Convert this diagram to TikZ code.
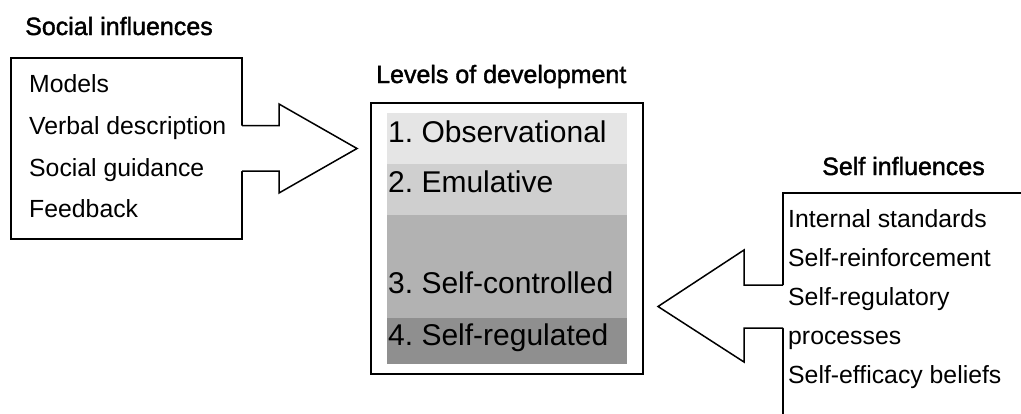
\documentclass[tikz,border=0pt]{standalone}
\usepackage{fontspec}
\setmainfont{Liberation Sans}
\usepackage{tikz}
\usetikzlibrary{calc,positioning}
\frenchspacing

\newcommand{\headfont}{\fontsize{25}{28}\selectfont\addfontfeature{FakeBold=1.6}}
\newcommand{\itemfont}{\fontsize{24.8}{28}\selectfont}
\newcommand{\levfont}{\fontsize{30}{34}\selectfont}

\tikzset{
  box/.style={draw, fill=white, rectangle, line width=1.5pt, inner sep=0pt, outer sep=0pt, anchor=north west},
  band/.style={rectangle, inner sep=0pt, outer sep=0pt, anchor=north west, minimum width=240pt},
  head/.style={anchor=base west, inner sep=0pt, font=\headfont},
  item/.style={anchor=base west, inner sep=0pt, font=\itemfont},
  lev/.style={anchor=base west, inner sep=0pt, font=\levfont},
  blockarrow/.style={draw, line width=1.5pt, line join=miter}
}

\begin{document}
\begin{tikzpicture}[x=1pt, y=-1pt]
        \useasboundingbox (0,0) rectangle (1021,413);
        \clip (0,0) rectangle (1021,413);

        % social influences
        \node[head] (soctitle) at (25,35) {Social influences};
        \node[box, minimum width=231pt, minimum height=181pt] (soc) at (11,58) {};
        \node[item] (models) at (29,92) {Models};
        \node[item] (verbal) at (29,134) {Verbal description};
        \node[item] (guide) at (29,176) {Social guidance};
        \node[item] (feed) at (29,217) {Feedback};

        % levels of development
        \node[head] (levtitle) at (376,83) {Levels of development};
        \node[box, minimum width=272pt, minimum height=271pt] (levels) at (371,103) {};
        \node[band, fill=black!10, minimum height=51pt] (b1) at (387,113) {};
        \node[band, fill=black!19, minimum height=51pt] (b2) at (b1.south west) {};
        \node[band, fill=black!30, minimum height=103pt] (b3) at (b2.south west) {};
        \node[band, fill=black!44, minimum height=46pt] (b4) at (b3.south west) {};
        \node[lev] (l1) at (388,142) {1. Observational};
        \node[lev] (l2) at (388,192) {2. Emulative};
        \node[lev] (l3) at (388,293) {3. Self-controlled};
        \node[lev] (l4) at (388,345) {4. Self-regulated};

        % self influences
        \node[head] (selftitle) at (822,175) {Self influences};
        \node[box, minimum width=300pt, minimum height=300pt] (self) at (783,193) {};
        \node[item] (intern) at (788,227) {Internal standards};
        \node[item] (reinf) at (788,266) {Self-reinforcement};
        \node[item] (regul) at (788,305) {Self-regulatory};
        \node[item] (proc) at (788,344) {processes};
        \node[item] (effic) at (788,383) {Self-efficacy beliefs};

        % arrows
        \fill[white] ($(soc.east)+(-3,-23)$) -- ++(40,0) -- ++(0,-21.5) -- ($(soc.east)+(115,0)$)
            -- ($(soc.east)+(37,44.5)$) -- ++(0,-22) -- ($(soc.east)+(-3,22.5)$) -- cycle;
        \draw[blockarrow] ($(soc.east)+(0,-23)$) -- ++(37,0) -- ++(0,-21.5) -- ($(soc.east)+(115,0)$)
            -- ($(soc.east)+(37,44.5)$) -- ++(0,-22) -- ($(soc.east)+(0,22.5)$);

        \fill[white] ($(self.north west)+(3,92)$) -- ++(-42,0) -- ++(0,-35) -- ($(self.north west)+(-125,113.5)$)
            -- ($(self.north west)+(-39,169)$) -- ++(0,-34) -- ($(self.north west)+(3,135)$) -- cycle;
        \draw[blockarrow] ($(self.north west)+(0,92)$) -- ++(-39,0) -- ++(0,-35) -- ($(self.north west)+(-125,113.5)$)
            -- ($(self.north west)+(-39,169)$) -- ++(0,-34) -- ($(self.north west)+(0,135)$);
    \end{tikzpicture}
\end{document}
